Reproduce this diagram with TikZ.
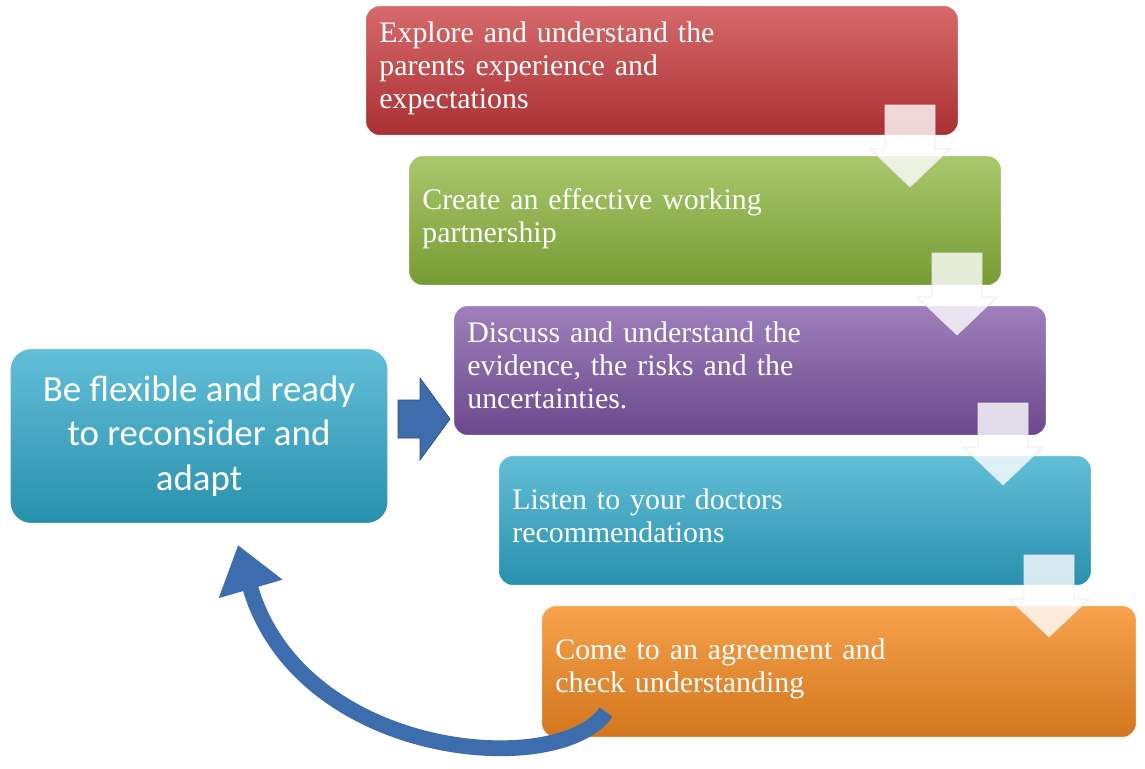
\documentclass[tikz,border=0pt]{standalone}
\usepackage{fontspec}
\setmainfont{Liberation Serif}
\newfontfamily\boxsans{Carlito}
\usetikzlibrary{arrows.meta}
\definecolor{redstep}{HTML}{C8383A}
\definecolor{greenstep}{HTML}{8CB63C}
\definecolor{purplestep}{HTML}{7E55A5}
\definecolor{cyanstep}{HTML}{2FA9CB}
\definecolor{orangestep}{HTML}{F68B21}
\definecolor{arrowblue}{HTML}{3E6DAE}
% down arrow with its tip at (#1,#2)
\newcommand{\downarrowat}[2]{%
	\draw[draw=white!80!gray, fill=white, fill opacity=0.8] (#1-25,#2-82) -- (#1+25,#2-82) -- (#1+25,#2-38) -- (#1+40,#2-38) -- (#1,#2) -- (#1-40,#2-38) -- (#1-25,#2-38) -- cycle;}
\begin{document}
\begin{tikzpicture}[x=0.02cm, y=-0.02cm]
	\tikzset{
		Step/.style={draw=white, line width=0.6pt, rounded corners=8pt, minimum width=11.86cm, minimum height=2.6cm, anchor=north west},
		StepText/.style={anchor=north west, text=white, align=left, text width=10.6cm, font=\fontsize{17}{18.8}\selectfont, inner sep=0pt}
	}
	\useasboundingbox (0,0) rectangle (1145,768);

	\node[name=s1, Step, top color=redstep!75!white, bottom color=redstep!85!black] at (365,5){};
	\node[name=s2, Step, top color=greenstep!75!white, bottom color=greenstep!85!black] at (408,155){};
	\node[name=s3, Step, top color=purplestep!75!white, bottom color=purplestep!85!black] at (453,305){};
	\node[name=s4, Step, top color=cyanstep!75!white, bottom color=cyanstep!85!black] at (498,455){};
	\node[name=s5, Step, minimum width=11.9cm, minimum height=2.64cm, top color=orangestep!80!white, bottom color=orangestep!85!black] at (541,605){};

	\node[name=t1, StepText] at (379,21){Explore and understand the\\parents experience and\\expectations};
	\node[name=t2, StepText] at (422,188){Create an effective working\\partnership};
	\node[name=t3, StepText] at (467,321){Discuss and understand the\\evidence, the risks and the\\uncertainties.};
	\node[name=t4, StepText] at (512,488){Listen to your doctors\\recommendations};
	\node[name=t5, StepText] at (555,638){Come to an agreement and\\check understanding};

	\downarrowat{910}{187}
	\downarrowat{957}{335}
	\downarrowat{1003}{485}
	\downarrowat{1049}{637}

	\node[name=flex, draw=white, line width=0.6pt, rounded corners=12pt, minimum width=7.56cm, minimum height=3.5cm, top color=cyanstep!75!white, bottom color=cyanstep!85!black, text=white, align=center, font=\boxsans\fontsize{21}{25.5}\selectfont] at (199,436){Be flexible and ready\\to reconsider and\\adapt};

	\draw[fill=arrowblue, draw=arrowblue!70!black] (398,400) -- (420,400) -- (420,378) -- (450,419) -- (420,460) -- (420,438) -- (398,438) -- cycle;

	\coordinate (loopstart) at (606,712);
	\coordinate (looptip) at (238,545);
	\draw[arrowblue, line width=9pt, -{Triangle[length=26pt, width=36pt]}] (loopstart) .. controls (560,780) and (300,760) .. (looptip);
\end{tikzpicture}
\end{document}
